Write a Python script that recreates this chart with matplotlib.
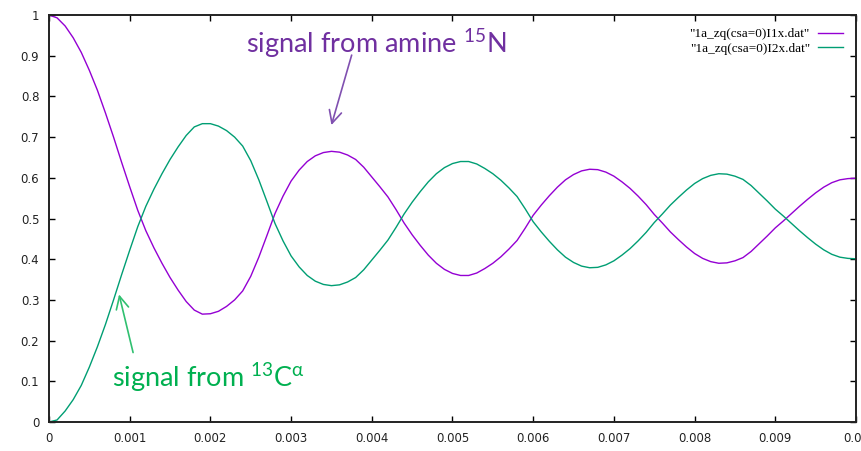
import numpy as np
import matplotlib
matplotlib.use("Agg")
import matplotlib.pyplot as plt

# time axis (s) and the two zero-quantum transfer curves
t = np.round(np.arange(0, 101) * 0.0001, 4)

i1x = [1.000, 0.993, 0.973, 0.944, 0.908, 0.864, 0.815, 0.759, 0.700, 0.638,
       0.578, 0.520, 0.470, 0.428, 0.390, 0.355, 0.324, 0.296, 0.275, 0.265,
       0.266, 0.272, 0.284, 0.300, 0.322, 0.358, 0.405, 0.458, 0.512, 0.555,
       0.592, 0.619, 0.640, 0.654, 0.662, 0.665, 0.663, 0.656, 0.645, 0.626,
       0.602, 0.578, 0.553, 0.522, 0.489, 0.460, 0.434, 0.410, 0.390, 0.375,
       0.365, 0.360, 0.360, 0.366, 0.377, 0.390, 0.406, 0.425, 0.446, 0.476,
       0.508, 0.533, 0.556, 0.577, 0.595, 0.608, 0.617, 0.621, 0.620, 0.614,
       0.604, 0.590, 0.574, 0.555, 0.534, 0.510, 0.489, 0.467, 0.448, 0.430,
       0.414, 0.402, 0.394, 0.390, 0.391, 0.396, 0.404, 0.419, 0.438, 0.457,
       0.477, 0.494, 0.512, 0.530, 0.547, 0.563, 0.577, 0.588, 0.595, 0.598,
       0.599]

i2x = [0.000, 0.005, 0.027, 0.055, 0.090, 0.135, 0.185, 0.240, 0.300, 0.362,
       0.422, 0.480, 0.530, 0.572, 0.610, 0.645, 0.676, 0.704, 0.725, 0.733,
       0.733, 0.727, 0.716, 0.700, 0.678, 0.642, 0.595, 0.542, 0.488, 0.445,
       0.408, 0.381, 0.360, 0.346, 0.338, 0.335, 0.337, 0.344, 0.355, 0.374,
       0.398, 0.422, 0.447, 0.478, 0.511, 0.540, 0.566, 0.590, 0.610, 0.625,
       0.635, 0.640, 0.640, 0.634, 0.623, 0.610, 0.594, 0.575, 0.554, 0.524,
       0.492, 0.467, 0.444, 0.423, 0.405, 0.392, 0.383, 0.379, 0.380, 0.386,
       0.396, 0.410, 0.426, 0.445, 0.466, 0.490, 0.511, 0.533, 0.552, 0.570,
       0.586, 0.598, 0.606, 0.610, 0.609, 0.604, 0.596, 0.581, 0.562, 0.543,
       0.523, 0.506, 0.488, 0.470, 0.453, 0.437, 0.423, 0.412, 0.405, 0.402,
       0.401]

xticks = [0, 0.001, 0.002, 0.003, 0.004, 0.005, 0.006, 0.007, 0.008, 0.009, 0.01]
xlabels = ["0", "0.001", "0.002", "0.003", "0.004", "0.005", "0.006", "0.007", "0.008", "0.009", "0.01"]
yticks = [0, 0.1, 0.2, 0.3, 0.4, 0.5, 0.6, 0.7, 0.8, 0.9, 1]
ylabels = ["0", "0.1", "0.2", "0.3", "0.4", "0.5", "0.6", "0.7", "0.8", "0.9", "1"]

plt.rcParams["mathtext.fontset"] = "custom"
plt.rcParams["mathtext.rm"] = "Lato"
plt.rcParams["mathtext.it"] = "Lato"

fig = plt.figure(figsize=(8.62, 4.51), dpi=100)
ax = fig.add_axes([49 / 862, 1 - 422 / 451, 807 / 862, 407 / 451])

ax.plot(t, i1x, color="#9400d3", lw=1.0, label='"1a_zq(csa=0)I1x.dat"')
ax.plot(t, i2x, color="#009e73", lw=1.0, label='"1a_zq(csa=0)I2x.dat"')

ax.set_xlim(0, 0.01)
ax.set_ylim(0, 1)
ax.set_xticks(xticks)
ax.set_xticklabels(xlabels)
ax.set_yticks(yticks)
ax.set_yticklabels(ylabels)
ax.tick_params(direction="in", length=4, width=1, top=True, right=True,
               labelsize=8.5, labelcolor="#222222", pad=7)
for s in ax.spines.values():
    s.set_linewidth(1.4)
    s.set_color("#222222")

leg = ax.legend(loc="upper right", frameon=False, handlelength=1.9,
                prop={"family": "Liberation Serif", "size": 9.5},
                borderaxespad=0.6, labelspacing=0.15, markerfirst=False,
                handletextpad=0.6)

# hand-drawn style labels with arrows
purple = "#7030a0"
green = "#00b050"
ax.annotate("", xy=(0.00349, 0.723), xytext=(0.00376, 0.908),
            arrowprops=dict(arrowstyle="->,head_length=0.9,head_width=0.45",
                            color="#8050b0", lw=1.2))
ax.text(0.00244, 0.907, r"signal from amine $\mathregular{^{15}}$N",
        color=purple, fontsize=19.5, family="Lato", ha="left", va="baseline")

ax.annotate("", xy=(0.00086, 0.320), xytext=(0.00105, 0.164),
            arrowprops=dict(arrowstyle="->,head_length=0.9,head_width=0.45",
                            color="#30c070", lw=1.2))
ax.text(0.00078, 0.087, r"signal from $\mathregular{^{13}}$C$\mathregular{^{\alpha}}$",
        color=green, fontsize=19.5, family="Lato", ha="left", va="baseline")

fig.savefig("out.png", dpi=100)
plt.close(fig)
